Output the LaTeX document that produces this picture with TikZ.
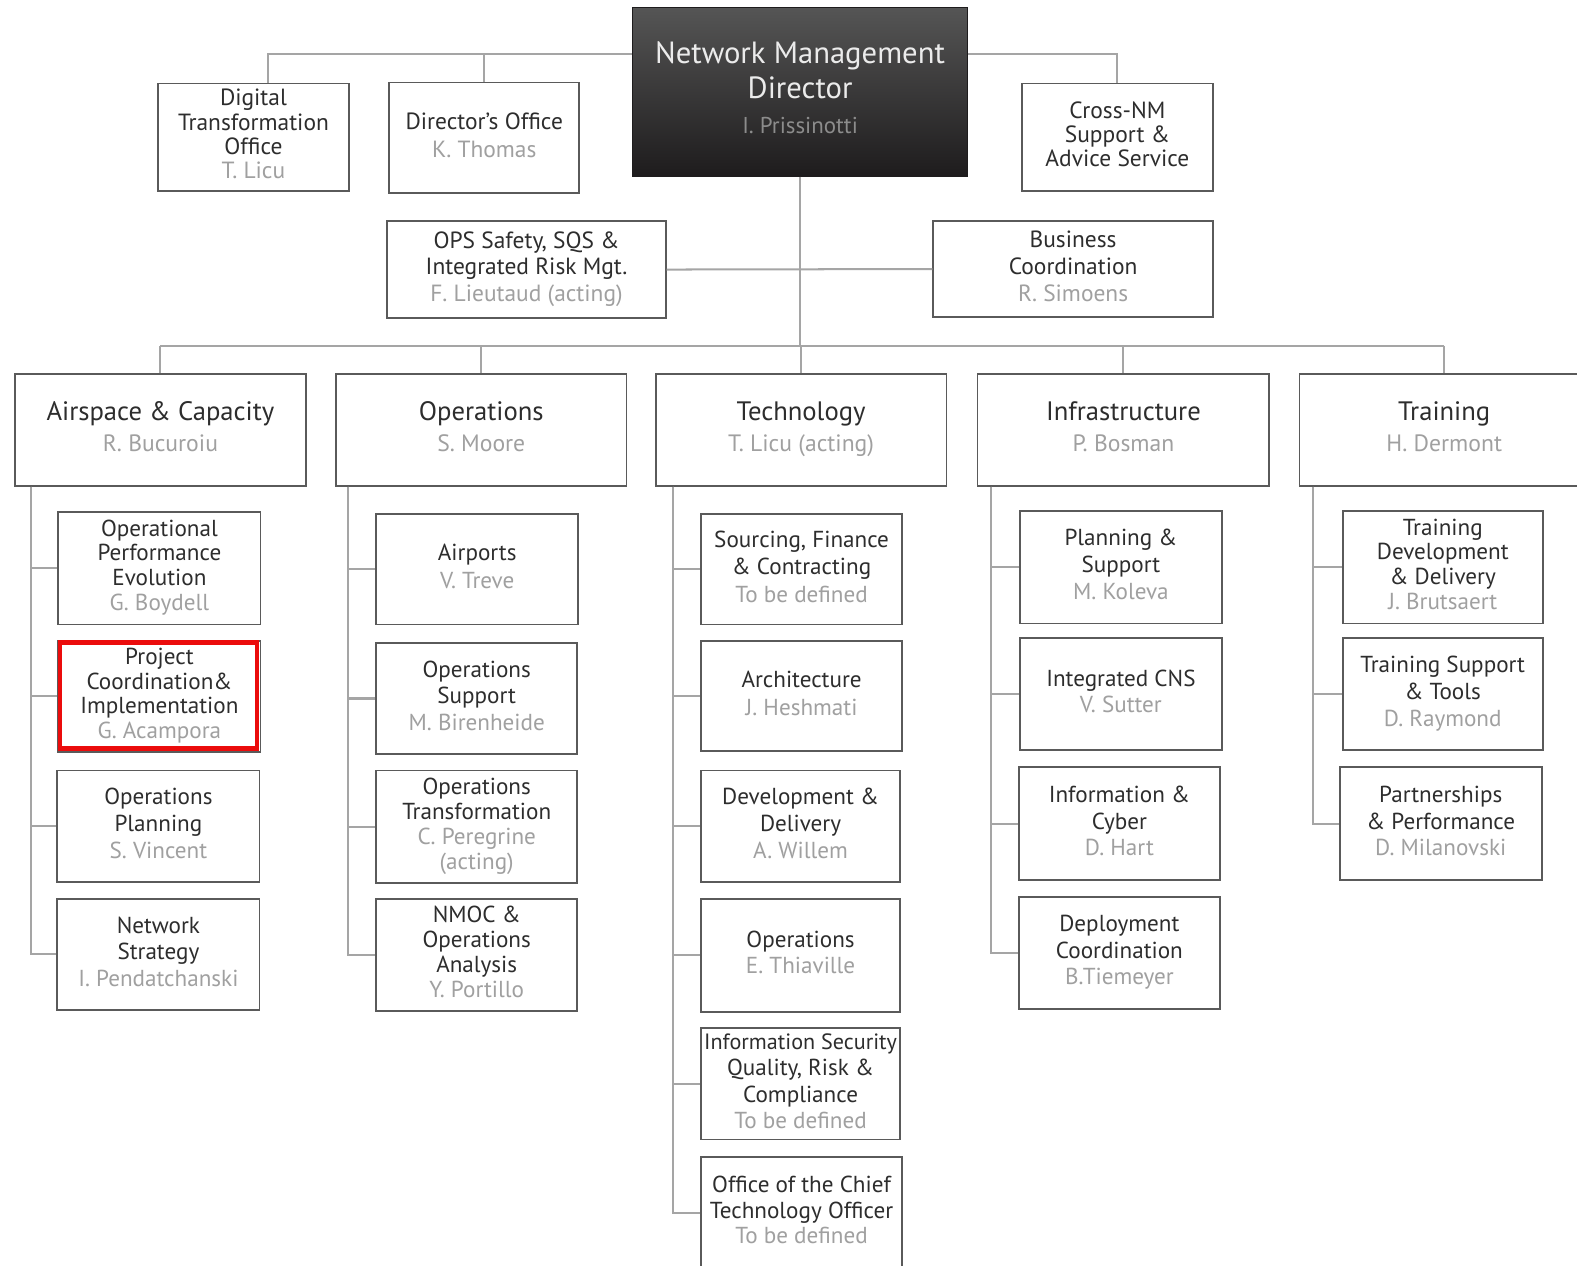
\documentclass[tikz,border=0pt]{standalone}
\usepackage{fontspec}
\setmainfont{PT Sans}
\usetikzlibrary{fit}
\definecolor{boxc}{RGB}{90,90,90}
\definecolor{linec}{RGB}{165,165,165}
\definecolor{titc}{RGB}{45,45,45}
\definecolor{namec}{RGB}{160,160,160}
\definecolor{dirtop}{RGB}{85,85,85}
\definecolor{dirbot}{RGB}{30,28,29}
\definecolor{hlred}{RGB}{235,12,12}
\newcommand\fs[2]{\fontsize{#1}{#2}\selectfont}
\newcommand\nm[1]{{\color{namec}#1}}
% #1 style, #2 name, #3-#6 corners, #7 lines, #8 line spacing, #9 text
\newcommand\ubox[9]{%
  \node[#1, fit={(#3,#4) (#5,#6)}] (#2) {};
  \node[t-#1={#8}, anchor=base] (#2-t) at ([yshift={#7*#8/2-0.7*#8}]#2.center)
    {\begin{tabular}[t]{@{}c@{}}#9\end{tabular}};}
\tikzset{
  box/.style={draw=boxc, line width=1.8pt, fill=white, inner sep=0pt},
  lvl/.style={box},
  top/.style={box},
  dirbox/.style={draw=dirbot, line width=1pt, top color=dirtop, bottom color=dirbot, inner sep=0pt},
  t-box/.style={font=\fs{23}{#1}, text=titc, inner sep=0pt},
  t-top/.style={font=\fs{23.3}{#1}, text=titc, inner sep=0pt},
  t-lvl/.style={font=\fs{26.5}{#1}, text=titc, inner sep=0pt},
  t-dirbox/.style={font=\fs{30.5}{#1}, text=white!92!black, inner sep=0pt},
  conn/.style={draw=linec, line width=2pt},
  hl/.style={draw=hlred, line width=4.5pt}
}
\newcommand\lnm[1]{{\fs{23.5}{31}\color{namec}#1}}
\begin{document}
\begin{tikzpicture}[x=1pt,y=-1pt]
\useasboundingbox[fill=white] (0,0) rectangle (1568,1258);
% top level
\ubox{dirbox}{dir}{629}{7}{962}{175}{3}{35}{Network Management\\Director\\{\fs{22.8}{35}\color{white!55!black}I. Prissinotti}}
\ubox{top}{dto}{157}{83}{347}{190}{4}{24}{Digital\\Transformation\\Office\\\nm{T. Licu}}
\ubox{top}{dof}{387}{82}{576}{192}{2}{28}{Director's Office\\\nm{K. Thomas}}
\ubox{top}{cnm}{1016}{83}{1206}{190}{3}{23}{Cross-NM\\Support \&\\Advice Service}
\ubox{top}{ops}{385}{220}{662}{316}{3}{26.5}{OPS Safety, SQS \&\\Integrated Risk Mgt.\\\nm{F. Lieutaud (acting)}}
\ubox{top}{bus}{928}{220}{1206}{315}{3}{26.5}{Business\\Coordination\\\nm{R. Simoens}}
% level 2
\ubox{lvl}{ac}{15}{372}{304}{483}{2}{31}{Airspace \& Capacity\\\lnm{R. Bucuroiu}}
\ubox{lvl}{op}{334}{372}{623}{483}{2}{31}{Operations\\\lnm{S. Moore}}
\ubox{lvl}{te}{652}{372}{941}{483}{2}{31}{Technology\\\lnm{T. Licu (acting)}}
\ubox{lvl}{in}{972}{372}{1262}{483}{2}{31}{Infrastructure\\\lnm{P. Bosman}}
\ubox{lvl}{tr}{1292}{372}{1580}{483}{2}{31}{Training\\\lnm{H. Dermont}}
% Airspace & Capacity
\ubox{box}{a1}{58}{509}{259}{621}{4}{24.5}{Operational\\Performance\\Evolution\\\nm{G. Boydell}}
\ubox{box}{a2}{58}{637}{259}{748}{4}{24.5}{Project\\Coordination\&\\Implementation\\\nm{G. Acampora}}
\ubox{box}{a3}{57}{766}{258}{877}{3}{26.5}{Operations\\Planning\\\nm{S. Vincent}}
\ubox{box}{a4}{57}{894}{258}{1004}{3}{26.5}{Network\\Strategy\\\nm{I. Pendatchanski}}
% Operations
\ubox{box}{o1}{374}{511}{575}{621}{2}{28}{Airports\\\nm{V. Treve}}
\ubox{box}{o2}{374}{639}{574}{750}{3}{26.5}{Operations\\Support\\\nm{M. Birenheide}}
\ubox{box}{o3}{374}{766}{574}{878}{4}{25}{Operations\\Transformation\\\nm{C. Peregrine}\\\nm{(acting)}}
\ubox{box}{o4}{374}{894}{574}{1005}{4}{25}{NMOC \&\\Operations\\Analysis\\\nm{Y. Portillo}}
% Technology
\ubox{box}{t1}{697}{511}{897}{621}{3}{27.5}{Sourcing, Finance\\\& Contracting\\\nm{To be defined}}
\ubox{box}{t2}{697}{637}{897}{747}{2}{28}{Architecture\\\nm{J. Heshmati}}
\ubox{box}{t3}{697}{766}{895}{877}{3}{26.5}{Development \&\\Delivery\\\nm{A. Willem}}
\ubox{box}{t4}{697}{894}{895}{1006}{2}{26}{Operations\\\nm{E. Thiaville}}
\ubox{box}{t5}{697}{1022}{895}{1133}{4}{26}{{\fs{22}{26}Information Security}\\Quality, Risk \&\\Compliance\\\nm{To be defined}}
\ubox{box}{t6}{697}{1150}{897}{1262}{3}{25.5}{Office of the Chief\\Technology Officer\\\nm{To be defined}}
% Infrastructure
\ubox{box}{i1}{1014}{508}{1215}{620}{3}{26.5}{Planning \&\\Support\\\nm{M. Koleva}}
\ubox{box}{i2}{1014}{634}{1215}{746}{2}{26}{Integrated CNS\\\nm{V. Sutter}}
\ubox{box}{i3}{1013}{763}{1213}{875}{3}{26.5}{Information \&\\Cyber\\\nm{D. Hart}}
\ubox{box}{i4}{1013}{892}{1213}{1003}{3}{26.5}{Deployment\\Coordination\\\nm{B.Tiemeyer}}
% Training
\ubox{box}{r1}{1335}{508}{1534}{620}{4}{24.5}{Training\\Development\\\& Delivery\\\nm{J. Brutsaert}}
\ubox{box}{r2}{1335}{634}{1534}{746}{3}{27}{Training Support\\\& Tools\\\nm{D. Raymond}}
\ubox{box}{r3}{1332}{763}{1533}{875}{3}{26.5}{Partnerships\\\& Performance\\\nm{D. Milanovski}}
% highlight
\draw[hl] ([shift={(2.5,2.5)}]a2.north west) rectangle ([shift={(-4.5,-4.5)}]a2.south east);
% connectors
\coordinate (t54) at (0,54);
\coordinate (h2) at (0,344);
\draw[conn] (dir.west |- t54) -| ([xshift=14pt]dto.north);
\draw[conn] (dof.north) -- (dof.north |- t54);
\draw[conn] (dir.east |- t54) -| (cnm.north);
\draw[conn] (dir.south) -- (dir.south |- h2);
\draw[conn] (ops.east) -- (bus.west);
\draw[conn] (ac.north |- h2) -- (tr.north |- h2);
\foreach \n in {ac,op,te,in,tr} {\draw[conn] (\n.north |- h2) -- (\n.north);}
\foreach \n in {a1,a2,a3,a4} {\draw[conn] ([xshift=17pt]ac.south west) |- (\n.west);}
\foreach \n in {o1,o2,o3,o4} {\draw[conn] ([xshift=13pt]op.south west) |- (\n.west);}
\foreach \n in {t1,t2,t3,t4,t5,t6} {\draw[conn] ([xshift=18pt]te.south west) |- (\n.west);}
\foreach \n in {i1,i2,i3,i4} {\draw[conn] ([xshift=14pt]in.south west) |- (\n.west);}
\foreach \n in {r1,r2,r3} {\draw[conn] ([xshift=14pt]tr.south west) |- (\n.west);}
\end{tikzpicture}
\end{document}
